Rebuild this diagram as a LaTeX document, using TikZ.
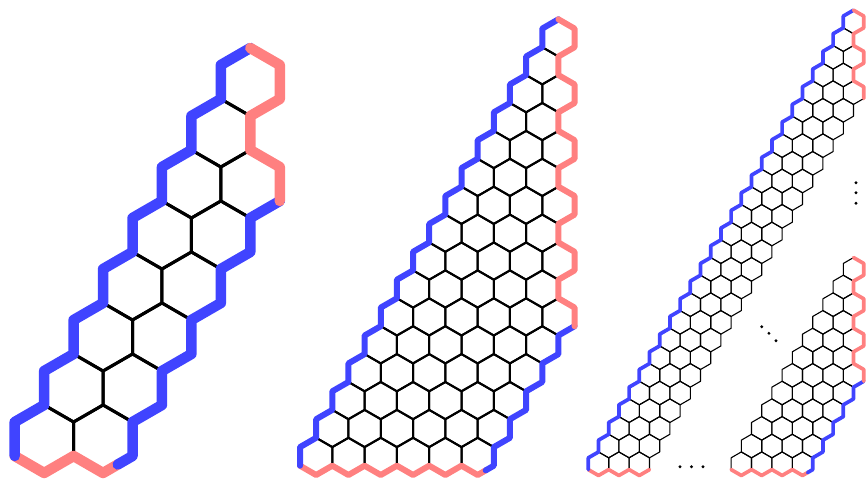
\documentclass[tikz,border=0pt]{standalone}
\definecolor{hexblue}{RGB}{64,68,255}
\definecolor{hexred}{RGB}{255,128,128}
\tikzset{
  hexedge/.style={draw=black, line width=#1, line join=round},
  bluepath/.style={draw=hexblue, line width=#1, line cap=round, line join=round},
  redpath/.style={draw=hexred, line width=#1, line cap=round, line join=round},
  dotmark/.style={fill=black},
}
\newcommand{\hexcell}[3]{%
  \pgfmathsetmacro{\hX}{1+2*#2+#1}%
  \pgfmathsetmacro{\hY}{2+3*#1}%
  \draw[hexedge=#3] (\hX,\hY+2) -- (\hX+1,\hY+1) -- (\hX+1,\hY-1) -- (\hX,\hY-2) -- (\hX-1,\hY-1) -- (\hX-1,\hY+1) -- cycle;}
\begin{document}
\begin{tikzpicture}
\useasboundingbox (0pt,0pt) rectangle (866pt,481pt);

% ---------- figure 1 : N = 2 ----------
\begin{scope}[shift={(14.7pt,8pt)}, x={(29.45pt,0pt)}, y={(0pt,17pt)}]
  \foreach \r in {0,...,7}{
    \pgfmathtruncatemacro{\cm}{min(2,2-floor((\r-4)/2))-1}
    \foreach \c in {0,...,\cm}{\hexcell{\r}{\c}{3pt}}
  }
  \draw[redpath=10.5pt] (0,1) -- (1,0) -- (2,1) -- (3,0) -- (3.5,0.5);
  \draw[bluepath=10.5pt] (0,1) \foreach \k in {0,...,7}{ -- (\k,{3*\k+3}) -- ({\k+1},{3*\k+4}) };
  \draw[bluepath=10.5pt] (9,16) \foreach \j in {0,...,4}{ -- ({8-\j},{15-3*\j}) -- ({8-\j},{13-3*\j}) } -- (3.5,0.5);
  \draw[redpath=10.5pt] (8,25) -- (9,24) -- (9,22) -- (8,21) -- (8,19) -- (9,18) -- (9,16);
\end{scope}

% ---------- figure 2 : N = 6 ----------
\begin{scope}[shift={(300pt,6pt)}, x={(16.15pt,0pt)}, y={(0pt,9.3pt)}]
  \foreach \r in {0,...,15}{
    \pgfmathtruncatemacro{\cm}{min(6,6-floor((\r-4)/2))-1}
    \foreach \c in {0,...,\cm}{\hexcell{\r}{\c}{2pt}}
  }
  \draw[redpath=6pt] (0,1) \foreach \i in {0,...,4}{ -- ({2*\i+1},0) -- ({2*\i+2},1) } -- (11,0) -- (11.5,0.5);
  \draw[bluepath=6pt] (0,1) \foreach \k in {0,...,15}{ -- (\k,{3*\k+3}) -- ({\k+1},{3*\k+4}) };
  \draw[bluepath=6pt] (17,16) \foreach \j in {0,...,4}{ -- ({16-\j},{15-3*\j}) -- ({16-\j},{13-3*\j}) } -- (11.5,0.5);
  \draw[redpath=6pt] (16,49) \foreach \k in {0,...,4}{ -- (17,{48-6*\k}) -- (17,{46-6*\k}) -- (16,{45-6*\k}) -- (16,{43-6*\k}) } -- (17,18) -- (17,16);
\end{scope}

% ---------- figure 3 : N = 11, shown in two parts ----------
\begin{scope}[shift={(588.3pt,5.5pt)}, x={(10.2pt,0pt)}, y={(0pt,5.89pt)}]
  % left strip
  \foreach \r in {0,...,25}{
    \pgfmathtruncatemacro{\cm}{min(3,11-floor((\r-4)/2))-1}
    \foreach \c in {0,...,\cm}{\hexcell{\r}{\c}{1.1pt}}
  }
  % lower right part
  \foreach \r in {0,...,11}{
    \pgfmathtruncatemacro{\cm}{min(11,11-floor((\r-4)/2))-1}
    \foreach \c in {7,...,\cm}{\hexcell{\r}{\c}{1.1pt}}
  }
  \draw[redpath=3.7pt] (0,1) -- (1,0) -- (2,1) -- (3,0) -- (4,1) -- (5,0) -- (6,1);
  \draw[bluepath=3.7pt] (0,1) \foreach \k in {0,...,25}{ -- (\k,{3*\k+3}) -- ({\k+1},{3*\k+4}) };
  \draw[redpath=3.7pt] (26,79) -- (27,78) -- (27,76) -- (26,75) -- (26,73) -- (27,72) -- (27,70) -- (26,69) -- (26,67) -- (27,66) -- (27,64);
  \draw[redpath=3.7pt] (14,1) \foreach \i in {7,...,9}{ -- ({2*\i+1},0) -- ({2*\i+2},1) } -- (21,0) -- (21.5,0.5);
  \draw[bluepath=3.7pt] (27,16) \foreach \j in {0,...,4}{ -- ({26-\j},{15-3*\j}) -- ({26-\j},{13-3*\j}) } -- (21.5,0.5);
  \draw[redpath=3.7pt] (26,37) \foreach \k in {0,...,2}{ -- (27,{36-6*\k}) -- (27,{34-6*\k}) -- (26,{33-6*\k}) -- (26,{31-6*\k}) } -- (27,18) -- (27,16);
\end{scope}

% ellipsis dots
\foreach \p [count=\i] in {{(680pt,14.3pt)},{(691.5pt,14.3pt)},{(703pt,14.3pt)}}
  \fill[dotmark] \p circle (1.6pt);
\foreach \p in {{(761.7pt,154.3pt)},{(768.9pt,147.7pt)},{(776pt,140.3pt)}}
  \fill[dotmark] \p circle (1.6pt);
\foreach \p in {{(856pt,298.3pt)},{(856pt,288.3pt)},{(856pt,277.7pt)}}
  \fill[dotmark] \p circle (1.6pt);
\end{tikzpicture}
\end{document}
